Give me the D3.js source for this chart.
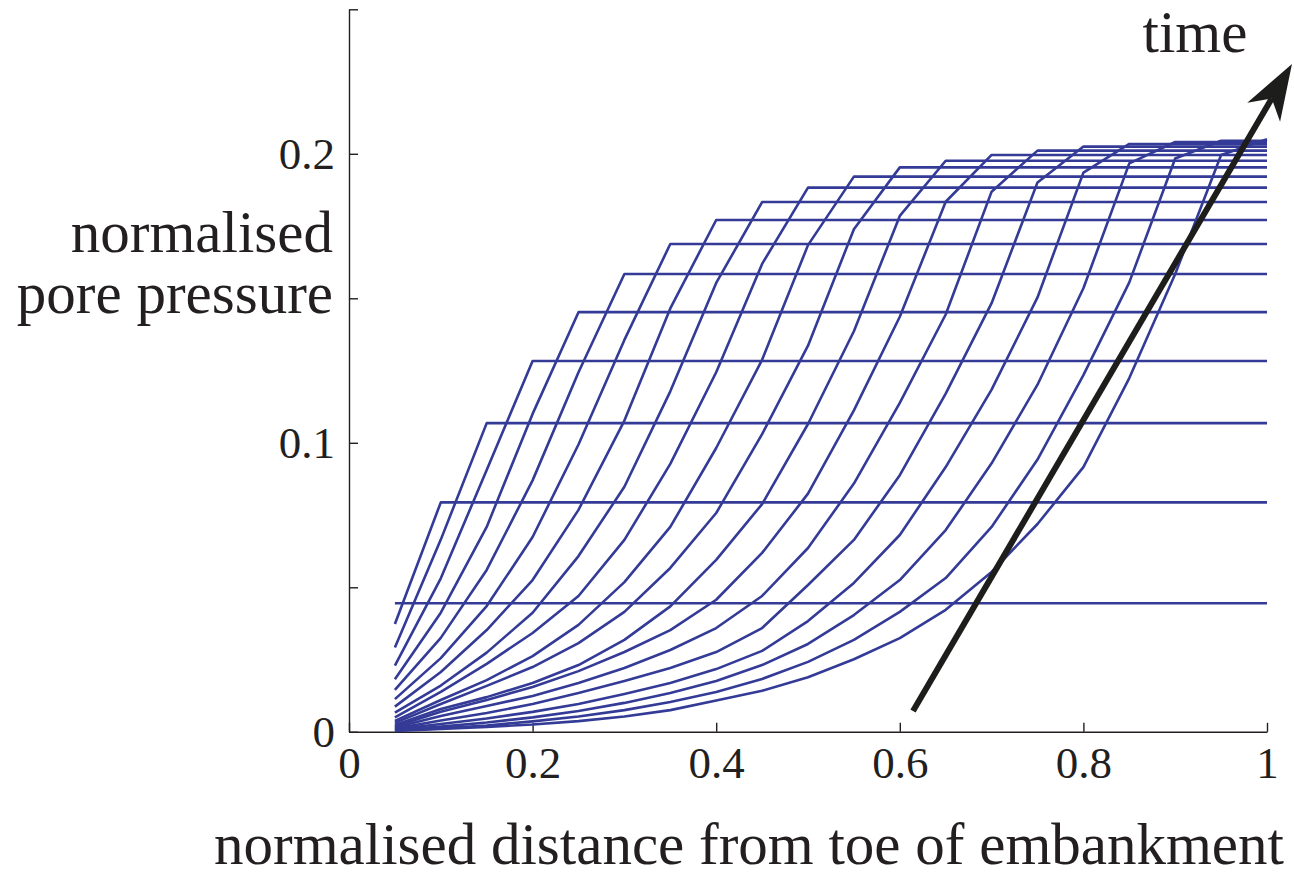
<!DOCTYPE html>
<html>
<head>
<meta charset="utf-8">
<script src="https://cdn.jsdelivr.net/npm/d3@7"></script>
<style>
  body { margin: 0; background: #fff; }
  svg { display: block; }
  .axis text { font-family: "Liberation Serif", "Times New Roman", serif; font-size: 45px; fill: #231f20; }
  .axis path, .axis line { stroke: #231f20; stroke-width: 1.4; }
  .label { font-family: "Liberation Serif", "Times New Roman", serif; font-size: 59px; fill: #231f20; }
</style>
</head>
<body>
<div id="chart"></div>
<script>
// node positions along the embankment (normalised distance)
var xNodes = [0.05, 0.10, 0.15, 0.20, 0.25, 0.30, 0.35, 0.40, 0.45, 0.50,
              0.55, 0.60, 0.65, 0.70, 0.75, 0.80, 0.85, 0.90, 0.95, 1.00];

// pore pressure at each node for successive time steps (front at last node, flat beyond)
var p01 = [0.0445];
var p02 = [0.0373, 0.0794];
var p03 = [0.0292, 0.0665, 0.1068];
var p04 = [0.0229, 0.0531, 0.0906, 0.1283];
var p05 = [0.0182, 0.0412, 0.0709, 0.1100, 0.1452];
var p06 = [0.0145, 0.0325, 0.0560, 0.0870, 0.1244, 0.1584];
var p07 = [0.0113, 0.0255, 0.0435, 0.0674, 0.0994, 0.1356, 0.1688];
var p08 = [0.0087, 0.0207, 0.0352, 0.0525, 0.0768, 0.1077, 0.1465, 0.1771];
var p09 = [0.0066, 0.0160, 0.0274, 0.0412, 0.0608, 0.0848, 0.1178, 0.1553, 0.1833];
var p10 = [0.0050, 0.0138, 0.0235, 0.0342, 0.0470, 0.0664, 0.0927, 0.1244, 0.1619, 0.1883];
var p11 = [0.0038, 0.0110, 0.0179, 0.0262, 0.0370, 0.0518, 0.0709, 0.0982, 0.1287, 0.1684, 0.1921];
var p12 = [0.0031, 0.0096, 0.0159, 0.0224, 0.0307, 0.0415, 0.0567, 0.0757, 0.1030, 0.1336, 0.1739, 0.1953];
var p13 = [0.0024, 0.0079, 0.0120, 0.0169, 0.0231, 0.0318, 0.0434, 0.0595, 0.0788, 0.1065, 0.1386, 0.1785, 0.1976];
var p14 = [0.0018, 0.0069, 0.0110, 0.0155, 0.0210, 0.0276, 0.0352, 0.0457, 0.0619, 0.0824, 0.1112, 0.1436, 0.1834, 0.1996];
var p15 = [0.0015, 0.0055, 0.0089, 0.0124, 0.0169, 0.0221, 0.0283, 0.0359, 0.0470, 0.0636, 0.0859, 0.1138, 0.1444, 0.1869, 0.2011];
var p16 = [0.0011, 0.0039, 0.0065, 0.0096, 0.0134, 0.0176, 0.0221, 0.0276, 0.0359, 0.0508, 0.0664, 0.0888, 0.1170, 0.1483, 0.1901, 0.2025];
var p17 = [0.0009, 0.0027, 0.0046, 0.0069, 0.0096, 0.0131, 0.0169, 0.0217, 0.0280, 0.0383, 0.0515, 0.0681, 0.0916, 0.1184, 0.1503, 0.1935, 0.2034];
var p18 = [0.0006, 0.0018, 0.0032, 0.0050, 0.0072, 0.0100, 0.0134, 0.0176, 0.0231, 0.0304, 0.0404, 0.0525, 0.0698, 0.0929, 0.1201, 0.1535, 0.1967, 0.2041];
var p19 = [0.0005, 0.0012, 0.0022, 0.0036, 0.0053, 0.0075, 0.0103, 0.0138, 0.0183, 0.0242, 0.0318, 0.0415, 0.0532, 0.0709, 0.0942, 0.1234, 0.1555, 0.1984, 0.2045];
var p20 = [0.0003, 0.0010, 0.0017, 0.0025, 0.0037, 0.0053, 0.0075, 0.0108, 0.0142, 0.0189, 0.0251, 0.0324, 0.0422, 0.0553, 0.0719, 0.0916, 0.1224, 0.1584, 0.1996, 0.2050];

var profiles = [p01, p02, p03, p04, p05, p06, p07, p08, p09, p10,
                p11, p12, p13, p14, p15, p16, p17, p18, p19, p20];

var xTicks = [0, 0.2, 0.4, 0.6, 0.8, 1];
var yTicks = [0, 0.05, 0.1, 0.15, 0.2, 0.25];
var yTickLabels = {"0": "0", "0.1": "0.1", "0.2": "0.2"};

// time arrow, in data units (tail, tip)
var arrowTail = [0.6144, 0.0072];
var arrowTip = [1.0272, 0.2311];

var W = 1294, H = 876;
var margin = {top: 9.3, right: 27, bottom: 144.2, left: 349};

var x = d3.scaleLinear().domain([0, 1]).range([margin.left, W - margin.right]);
var y = d3.scaleLinear().domain([0, 0.25]).range([H - margin.bottom, margin.top]);

var svg = d3.select("#chart")
  .append("svg")
  .attr("width", W)
  .attr("height", H);

// y axis
svg.append("g")
  .attr("class", "axis")
  .attr("transform", "translate(" + x(0) + ",0)")
  .call(d3.axisLeft(y)
    .tickValues(yTicks)
    .tickSizeInner(-9)
    .tickSizeOuter(0)
    .tickPadding(14)
    .tickFormat(function(d) { return yTickLabels[String(+d.toFixed(2))] || ""; }));

// x axis
svg.append("g")
  .attr("class", "axis")
  .attr("transform", "translate(0," + y(0) + ")")
  .call(d3.axisBottom(x)
    .tickValues(xTicks)
    .tickSizeInner(-9)
    .tickSizeOuter(0)
    .tickPadding(14)
    .tickFormat(function(d) { return d === 0 || d === 1 ? String(d) : d3.format(".1f")(d); }));

// profile lines
var line = d3.line()
  .x(function(d) { return x(d[0]); })
  .y(function(d) { return y(d[1]); });

svg.append("g")
  .selectAll("path")
  .data(profiles)
  .enter().append("path")
  .attr("fill", "none")
  .attr("stroke", "#343b97")
  .attr("stroke-width", 2.6)
  .attr("stroke-linejoin", "round")
  .attr("d", function(p) {
    var pts = p.map(function(v, i) { return [xNodes[i], v]; });
    pts.push([1, p[p.length - 1]]);
    return line(pts);
  });

// time arrow
var ax0 = x(arrowTail[0]), ay0 = y(arrowTail[1]);
var ax1 = x(arrowTip[0]), ay1 = y(arrowTip[1]);
var len = Math.hypot(ax1 - ax0, ay1 - ay0);
var ux = (ax1 - ax0) / len, uy = (ay1 - ay0) / len;
var px = -uy, py = ux;
var headLen = 56, headHalf = 19, notch = 40;

svg.append("line")
  .attr("x1", ax0).attr("y1", ay0)
  .attr("x2", ax1 - ux * notch).attr("y2", ay1 - uy * notch)
  .attr("stroke", "#1d1d1b")
  .attr("stroke-width", 6);

svg.append("path")
  .attr("fill", "#1d1d1b")
  .attr("d", "M" + ax1 + "," + ay1 +
    "L" + (ax1 - ux * headLen + px * headHalf) + "," + (ay1 - uy * headLen + py * headHalf) +
    "L" + (ax1 - ux * notch) + "," + (ay1 - uy * notch) +
    "L" + (ax1 - ux * headLen - px * headHalf) + "," + (ay1 - uy * headLen - py * headHalf) + "Z");

// labels
svg.append("text")
  .attr("class", "label")
  .attr("x", 1195).attr("y", 52)
  .attr("text-anchor", "middle")
  .text("time");

svg.append("text")
  .attr("class", "label")
  .attr("x", 333).attr("y", 252)
  .attr("text-anchor", "end")
  .text("normalised");

svg.append("text")
  .attr("class", "label")
  .attr("x", 333).attr("y", 313)
  .attr("text-anchor", "end")
  .text("pore pressure");

svg.append("text")
  .attr("class", "label")
  .attr("x", 749).attr("y", 864)
  .attr("text-anchor", "middle")
  .text("normalised distance from toe of embankment");
</script>
</body>
</html>
